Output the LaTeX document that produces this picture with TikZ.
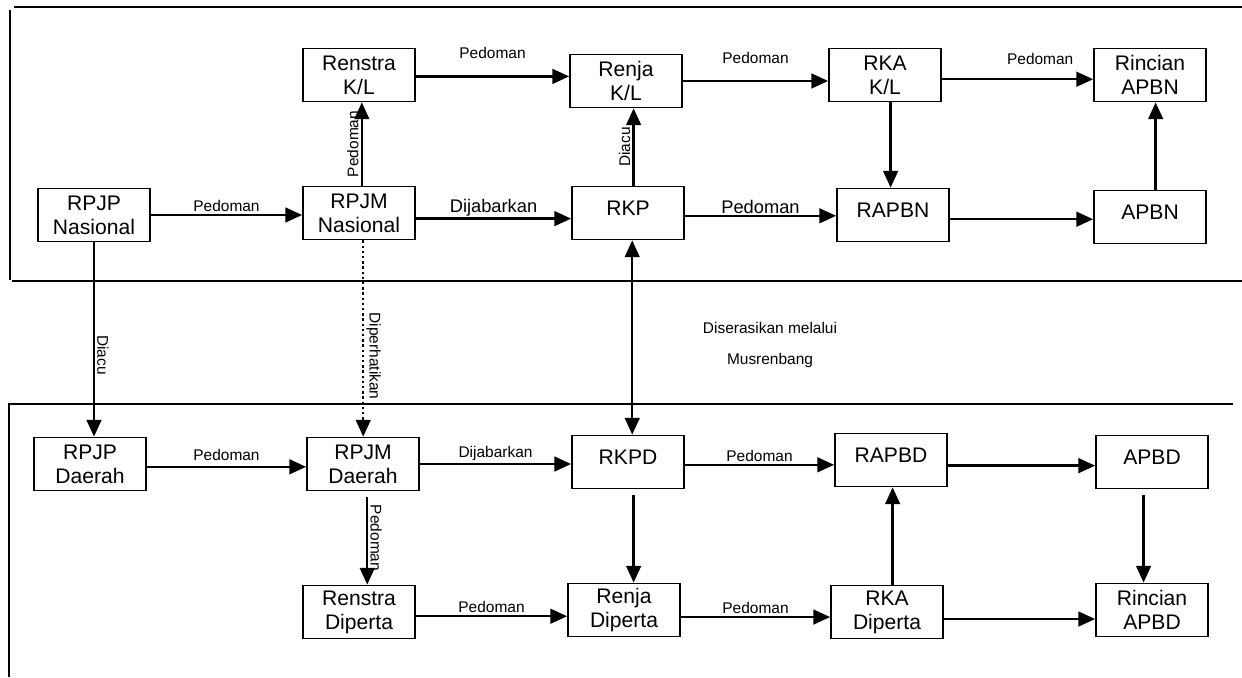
\documentclass[tikz,border=0pt]{standalone}
\usepackage{fontspec}
\setmainfont{Liberation Sans}
\usetikzlibrary{arrows.meta}

\begin{document}
\begin{tikzpicture}[x=0.025cm, y=-0.025cm,
    >={Triangle[length=12pt,width=10.5pt]},
    box/.style={draw, line width=1.2pt, minimum width=2.8cm, minimum height=1.325cm,
        align=center, inner sep=1pt, font=\fontsize{15}{17}\selectfont},
    single/.style={text depth=7pt},
    link/.style={->, line width=1.7pt},
    lbl/.style={inner sep=1.5pt, font=\fontsize{11}{13}\selectfont},
    lblbig/.style={inner sep=1pt, font=\fontsize{13}{15}\selectfont},
    frame/.style={line width=1.4pt}]
    \useasboundingbox (0,0) rectangle (1242,677);

    \draw[frame] (14,7) -- (1242,7);
    \draw[frame] (10,10) -- (10,280);
    \draw[frame] (12,281) -- (1242,281);
    \draw[frame, line width=1.1pt] (8,404) -- (1233,404);
    \draw[frame, line width=1.1pt] (9,404) -- (9,677);

    \node[box] (RPJPN) at (94,215) {RPJP\\Nasional};
    \node[box] (RPJMN) at (359,213) {RPJM\\Nasional};
    \node[box] (RenstraKL) at (359,75) {Renstra\\K/L};
    \node[box] (RenjaKL) at (626,81) {Renja\\K/L};
    \node[box, single] (RKP) at (628,213) {RKP};
    \node[box] (RKAKL) at (885,75) {RKA\\K/L};
    \node[box, single] (RAPBN) at (893,215) {RAPBN};
    \node[box] (RincianAPBN) at (1150,75) {Rincian\\APBN};
    \node[box, single] (APBN) at (1150,217) {APBN};

    \node[box] (RPJPD) at (90,464) {RPJP\\Daerah};
    \node[box] (RPJMD) at (363,464) {RPJM\\Daerah};
    \node[box] (RenstraD) at (359,612) {Renstra\\Diperta};
    \node[box, single] (RKPD) at (628,462) {RKPD};
    \node[box] (RenjaD) at (624,610) {Renja\\Diperta};
    \node[box, single] (RAPBD) at (891,460) {RAPBD};
    \node[box, single] (APBD) at (1152,462) {APBD};
    \node[box] (RKAD) at (887,612) {RKA\\Diperta};
    \node[box] (RincianAPBD) at (1152,610) {Rincian\\APBD};

    \node[lbl, align=center, font=\fontsize{11}{22}\selectfont] (Musren) at (770,345) {Diserasikan melalui\\Musrenbang};

    \draw[link] (RPJPN.east) -- (RPJPN.east -| RPJMN.west) node[midway, above, lbl] {Pedoman};
    \draw[link] ([xshift=2pt]RPJMN.north) -- ([xshift=2pt]RPJMN.north |- RenstraKL.south) node[midway, anchor=south, rotate=90, lbl] {Pedoman};
    \draw[link] ([yshift=-1pt]RenstraKL.east) -- ([yshift=-1pt]RenstraKL.east -| RenjaKL.west) node[midway, above=10pt, lbl] {Pedoman};
    \draw[link] ([yshift=-4pt]RPJMN.east) -- ([yshift=-4pt]RPJMN.east -| RKP.west) node[midway, above, lblbig] {Dijabarkan};
    \draw[link] ([xshift=4pt]RKP.north) -- ([xshift=4pt]RKP.north |- RenjaKL.south) node[midway, anchor=south, rotate=90, lbl] {Diacu};
    \draw[link] (RenjaKL.east) -- (RenjaKL.east -| RKAKL.west) node[midway, above=10pt, lbl] {Pedoman};
    \draw[link] ([yshift=-2pt]RKP.east) -- ([yshift=-2pt]RKP.east -| RAPBN.west) node[midway, above, lblbig] {Pedoman};
    \draw[link] ([xshift=4pt]RKAKL.south) -- ([xshift=4pt]RKAKL.south |- RAPBN.north);
    \draw[link] ([yshift=-3pt]RKAKL.east) -- ([yshift=-3pt]RKAKL.east -| RincianAPBN.west) node[pos=0.65, above=8pt, lbl] {Pedoman};
    \draw[link] ([yshift=-3pt]RAPBN.east) -- ([yshift=-3pt]RAPBN.east -| APBN.west);
    \draw[link] ([xshift=4pt]APBN.north) -- ([xshift=4pt]APBN.north |- RincianAPBN.south);

    \draw[link] (RPJPN.south) -- (RPJPN.south |- RPJPD.north) node[pos=0.58, anchor=south, rotate=-90, lbl] {Diacu};
    \draw[link, dotted] ([xshift=3pt]RPJMN.south) -- ([xshift=3pt]RPJMN.south |- RPJMD.north) node[pos=0.59, anchor=south, rotate=-90, lbl] {Diperhatikan};
    \draw[link, <->] ([xshift=3pt]RKP.south) -- ([xshift=3pt]RKPD.north);

    \draw[link] ([yshift=-2pt]RPJPD.east) -- ([yshift=-2pt]RPJPD.east -| RPJMD.west) node[midway, above=2pt, lbl] {Pedoman};
    \draw[link] (RPJMD.east) -- (RPJMD.east -| RKPD.west) node[midway, above, lbl] {Dijabarkan};
    \draw[link, shorten <=4pt] ([xshift=3pt]RPJMD.south) -- ([xshift=3pt]RPJMD.south |- RenstraD.north) node[midway, anchor=south, rotate=-90, lbl] {Pedoman};
    \draw[link] ([yshift=-2pt]RKPD.east) -- ([yshift=-2pt]RKPD.east -| RAPBD.west) node[midway, above, lbl] {Pedoman};
    \draw[link, shorten <=4pt] ([xshift=4pt]RKPD.south) -- ([xshift=4pt]RKPD.south |- RenjaD.north);
    \draw[link] ([yshift=-4pt]RAPBD.east) -- ([yshift=-4pt]RAPBD.east -| APBD.west);
    \draw[link] ([xshift=4pt]RKAD.north) -- ([xshift=4pt]RKAD.north |- RAPBD.south);
    \draw[link, shorten <=4pt] ([xshift=-6pt]APBD.south) -- ([xshift=-6pt]APBD.south |- RincianAPBD.north);
    \draw[link] ([yshift=-3pt]RenstraD.east) -- ([yshift=-3pt]RenstraD.east -| RenjaD.west) node[midway, above, lbl] {Pedoman};
    \draw[link] ([yshift=-5pt]RenjaD.east) -- ([yshift=-5pt]RenjaD.east -| RKAD.west) node[midway, above, lbl] {Pedoman};
    \draw[link] ([yshift=-5pt]RKAD.east) -- ([yshift=-5pt]RKAD.east -| RincianAPBD.west);
\end{tikzpicture}
\end{document}
